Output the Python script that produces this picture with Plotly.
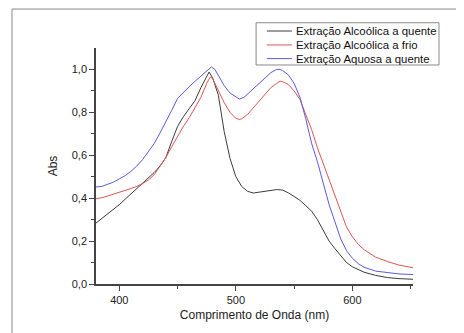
import plotly.graph_objects as go

# Wavelengths (nm) and absorbance readings
wl_black = [380, 385, 390, 395, 400, 405, 410, 415, 420, 425, 430, 435, 440, 445, 450, 455, 460, 465,
            470, 475, 477, 480, 485, 490, 495, 500, 505, 510, 515, 520, 525, 530, 535, 540, 545, 550,
            555, 560, 565, 570, 575, 580, 585, 590, 595, 600, 610, 620, 630, 640, 652]
abs_black = [0.284, 0.305, 0.325, 0.35, 0.37, 0.395, 0.42, 0.445, 0.47, 0.495, 0.52, 0.55, 0.59,
             0.665, 0.735, 0.78, 0.815, 0.855, 0.915, 0.97, 0.988, 0.962, 0.88, 0.71, 0.585, 0.50,
             0.455, 0.432, 0.424, 0.428, 0.432, 0.437, 0.44, 0.438, 0.425, 0.408, 0.39, 0.365,
             0.34, 0.30, 0.25, 0.20, 0.165, 0.13, 0.10, 0.08, 0.055, 0.04, 0.03, 0.025, 0.022]

wl_red = [380, 385, 390, 395, 400, 405, 410, 415, 420, 425, 430, 435, 440, 445, 450, 455, 460, 465,
          470, 475, 478, 480, 485, 490, 495, 500, 503, 505, 510, 515, 520, 525, 530, 535, 538, 540,
          545, 550, 555, 560, 565, 570, 575, 580, 585, 590, 595, 600, 605, 610, 620, 630, 640, 652]
abs_red = [0.398, 0.402, 0.41, 0.418, 0.426, 0.435, 0.445, 0.455, 0.468, 0.485, 0.51, 0.55, 0.59,
           0.64, 0.69, 0.735, 0.775, 0.82, 0.87, 0.935, 0.965, 0.958, 0.905, 0.845, 0.80, 0.772,
           0.767, 0.77, 0.79, 0.82, 0.855, 0.885, 0.915, 0.935, 0.945, 0.943, 0.93, 0.90, 0.86,
           0.79, 0.72, 0.635, 0.56, 0.49, 0.41, 0.335, 0.265, 0.22, 0.185, 0.16, 0.125, 0.105,
           0.088, 0.076]

wl_blue = [380, 385, 390, 395, 400, 405, 410, 415, 420, 425, 430, 435, 440, 445, 450, 455, 460, 465,
           470, 475, 479, 482, 485, 490, 495, 500, 503, 507, 510, 515, 520, 525, 530, 535, 538, 540,
           545, 550, 555, 560, 565, 570, 575, 580, 585, 590, 595, 600, 605, 610, 620, 630, 640, 652]
abs_blue = [0.452, 0.455, 0.465, 0.475, 0.49, 0.505, 0.525, 0.55, 0.58, 0.615, 0.655, 0.705, 0.755,
            0.81, 0.865, 0.895, 0.92, 0.945, 0.97, 0.995, 1.012, 1.0, 0.97, 0.925, 0.89, 0.87,
            0.862, 0.87, 0.885, 0.91, 0.935, 0.96, 0.985, 1.0, 1.0, 0.995, 0.975, 0.935, 0.87,
            0.77, 0.655, 0.57, 0.47, 0.37, 0.29, 0.21, 0.155, 0.12, 0.095, 0.078, 0.06, 0.052,
            0.047, 0.044]

names = ["Extração Alcoólica a quente", "Extração Alcoólica a frio", "Extração Aquosa a quente"]
colors = ["#3c3c3c", "#e05555", "#5a5ae6"]

fig = go.Figure()
for x, y, n, c in [(wl_black, abs_black, names[0], colors[0]),
                   (wl_red, abs_red, names[1], colors[1]),
                   (wl_blue, abs_blue, names[2], colors[2])]:
    fig.add_trace(go.Scatter(x=x, y=y, name=n, mode="lines",
                             line=dict(color=c, width=1), showlegend=False))

font = "Liberation Sans, Arial, sans-serif"
axcol = "#444444"

fig.update_layout(
    width=464, height=333,
    margin=dict(l=88, r=59, t=40, b=57),
    paper_bgcolor="white", plot_bgcolor="white",
    separators=",.",
    font=dict(family=font, size=11, color="#222222"),
    xaxis=dict(range=[380, 652], tickmode="array", tickvals=[400, 500, 600],
               ticks="outside", ticklen=5, tickwidth=1, tickcolor=axcol,
               showline=True, linecolor=axcol, linewidth=1.5, showgrid=False, zeroline=False,
               minor=dict(tickvals=[450, 550, 650], ticks="outside", ticklen=3, tickcolor=axcol),
               title=dict(text="Comprimento de Onda (nm)", font=dict(size=12, color="#222222"),
                          standoff=6),
               tickfont=dict(size=11)),
    yaxis=dict(range=[0, 1.1], tickmode="array", tickvals=[0, 0.2, 0.4, 0.6, 0.8, 1.0],
               ticktext=["0,0", "0,2", "0,4", "0,6", "0,8", "1,0"],
               ticks="outside", ticklen=5, tickwidth=1, tickcolor=axcol,
               showline=True, linecolor=axcol, linewidth=1.5, showgrid=False, zeroline=False,
               minor=dict(tickvals=[0.1, 0.3, 0.5, 0.7, 0.9], ticks="outside", ticklen=3,
                          tickcolor=axcol),
               title=dict(text="Abs", font=dict(size=12, color="#222222"), standoff=12),
               tickfont=dict(size=11)),
)

# Page frame (top and left borders)
fig.add_shape(type="line", xref="paper", yref="paper", x0=-0.265, x1=1.3, y0=1.165, y1=1.165,
              line=dict(color="#888888", width=1))
fig.add_shape(type="line", xref="paper", yref="paper", x0=-0.265, x1=-0.265, y0=1.165, y1=-0.3,
              line=dict(color="#888888", width=1))

# Legend box drawn manually
fig.add_shape(type="rect", xref="paper", yref="paper", x0=0.505, x1=1.082, y0=0.928, y1=1.107,
              line=dict(color="#888888", width=1), fillcolor="white")
rows = [1.072, 1.013, 0.955]
for n, c, ry in zip(names, colors, rows):
    fig.add_shape(type="line", xref="paper", yref="paper", x0=0.539, x1=0.618, y0=ry, y1=ry,
                  line=dict(color=c, width=1))
    fig.add_annotation(xref="paper", yref="paper", x=0.625, y=ry, text=n, showarrow=False,
                       xanchor="left", yanchor="middle", font=dict(size=11.4, color="#111111"))

fig.write_html("out.html")
